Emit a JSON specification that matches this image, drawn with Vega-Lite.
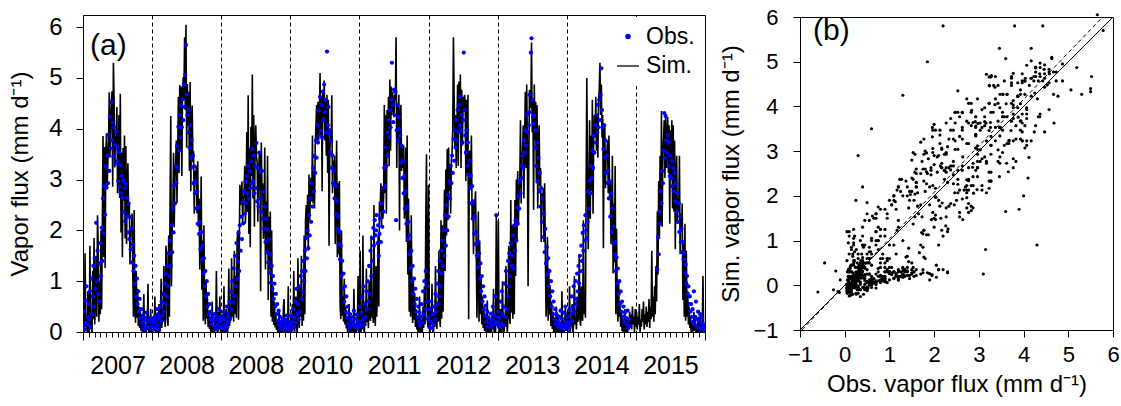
{
"$schema": "https://vega.github.io/schema/vega-lite/v6.json",
"padding": {"left": 8, "top": 5, "right": 0, "bottom": 0},
"background": "white",
"config": {"font": "Liberation Sans", "view": {"stroke": "black", "strokeWidth": 1}, "axis": {"domainColor": "black", "tickColor": "black", "labelColor": "black", "titleColor": "black", "labelFont": "Liberation Sans", "titleFont": "Liberation Sans", "titleFontWeight": "normal", "grid": false, "domainWidth": 1, "tickWidth": 1}},
"spacing": 95,
"bounds": "flush",
"center": true,
"resolve": {"scale": {"color": "independent", "shape": "independent", "size": "independent"}, "legend": {"color": "independent", "shape": "independent", "size": "independent"}},
"datasets": {"ts": [
{"t":2007.00,"o":0.12,"s":0.05},{"t":2007.01,"o":0.4,"s":0.55},{"t":2007.02,"o":0.05,"s":-0.12},{"t":2007.03,"o":0.62,"s":1.55},{"t":2007.04,"o":0.18,"s":0.1},{"t":2007.05,"o":0.9,"s":0.3},{"t":2007.06,"o":0.3,"s":-0.05},{"t":2007.07,"o":0.15,"s":0.8},{"t":2007.08,"o":0.55,"s":0.12},{"t":2007.09,"o":0.25,"s":-0.18},
{"t":2007.10,"o":0.8,"s":1.7},{"t":2007.11,"o":0.1,"s":0.05},{"t":2007.12,"o":1.05,"s":0.4},{"t":2007.13,"o":0.35,"s":-0.1},{"t":2007.14,"o":0.7,"s":1.2},{"t":2007.15,"o":1.3,"s":0.25},{"t":2007.16,"o":0.5,"s":1.85},{"t":2007.17,"o":1.45,"s":0.15},{"t":2007.18,"o":0.85,"s":0.6},{"t":2007.19,"o":2.15,"s":1.5},
{"t":2007.20,"o":1.0,"s":0.3},{"t":2007.21,"o":1.6,"s":2.3},{"t":2007.22,"o":0.75,"s":1.75},{"t":2007.23,"o":1.35,"s":0.2},{"t":2007.24,"o":0.6,"s":1.0},{"t":2007.25,"o":1.75,"s":0.35},{"t":2007.26,"o":1.1,"s":2.0},{"t":2007.27,"o":2.05,"s":0.45},{"t":2007.28,"o":1.4,"s":2.2},{"t":2007.29,"o":2.63,"s":3.86},
{"t":2007.30,"o":1.94,"s":1.47},{"t":2007.31,"o":2.87,"s":3.64},{"t":2007.32,"o":2.31,"s":1.26},{"t":2007.33,"o":3.26,"s":3.53},{"t":2007.34,"o":2.84,"s":3.91},{"t":2007.35,"o":3.47,"s":2.87},{"t":2007.36,"o":2.93,"s":3.34},{"t":2007.37,"o":3.88,"s":3.76},{"t":2007.38,"o":3.17,"s":4.72},{"t":2007.39,"o":4.24,"s":3.43},
{"t":2007.40,"o":3.61,"s":4.06},{"t":2007.41,"o":4.53,"s":4.48},{"t":2007.42,"o":3.77,"s":4.74},{"t":2007.43,"o":4.12,"s":2.86},{"t":2007.44,"o":3.46,"s":5.3},{"t":2007.45,"o":4.03,"s":4.57},{"t":2007.46,"o":3.68,"s":3.24},{"t":2007.47,"o":3.32,"s":3.87},{"t":2007.48,"o":3.94,"s":3.68},{"t":2007.49,"o":3.36,"s":4.43},
{"t":2007.50,"o":3.62,"s":2.73},{"t":2007.51,"o":2.97,"s":3.12},{"t":2007.52,"o":3.54,"s":4.27},{"t":2007.53,"o":2.86,"s":2.64},{"t":2007.54,"o":3.28,"s":4.69},{"t":2007.55,"o":2.73,"s":1.96},{"t":2007.56,"o":3.07,"s":3.53},{"t":2007.57,"o":2.64,"s":1.47},{"t":2007.58,"o":2.98,"s":3.62},{"t":2007.59,"o":2.37,"s":2.58},
{"t":2007.60,"o":2.83,"s":3.87},{"t":2007.61,"o":2.18,"s":1.84},{"t":2007.62,"o":2.92,"s":3.66},{"t":2007.63,"o":2.27,"s":1.73},{"t":2007.64,"o":2.64,"s":2.87},{"t":2007.65,"o":1.96,"s":3.32},{"t":2007.66,"o":2.53,"s":2.26},{"t":2007.67,"o":1.83,"s":2.54},{"t":2007.68,"o":2.26,"s":1.33},{"t":2007.69,"o":1.63,"s":2.07},
{"t":2007.70,"o":2.04,"s":1.97},{"t":2007.71,"o":1.37,"s":2.33},{"t":2007.72,"o":1.72,"s":1.18},{"t":2007.73,"o":1.2,"s":0.3},{"t":2007.74,"o":1.5,"s":2.4},{"t":2007.75,"o":0.95,"s":0.55},{"t":2007.76,"o":1.3,"s":0.18},{"t":2007.77,"o":0.7,"s":1.2},{"t":2007.78,"o":1.05,"s":0.28},{"t":2007.79,"o":0.55,"s":0.85},
{"t":2007.80,"o":0.8,"s":0.12},{"t":2007.81,"o":0.4,"s":0.5},{"t":2007.82,"o":0.65,"s":0.08},{"t":2007.83,"o":0.28,"s":0.4},{"t":2007.84,"o":0.45,"s":0.02},{"t":2007.85,"o":0.18,"s":0.28},{"t":2007.86,"o":0.32,"s":-0.08},{"t":2007.87,"o":0.08,"s":0.2},{"t":2007.88,"o":0.22,"s":0.75},{"t":2007.89,"o":0.04,"s":-0.06},
{"t":2007.90,"o":0.28,"s":0.14},{"t":2007.91,"o":0.12,"s":-0.22},{"t":2007.92,"o":0.38,"s":0.33},{"t":2007.93,"o":0.09,"s":0.04},{"t":2007.94,"o":0.2,"s":0.95},{"t":2007.95,"o":-0.15,"s":-0.14},{"t":2007.96,"o":0.27,"s":0.22},{"t":2007.97,"o":0.1,"s":-0.02},{"t":2007.98,"o":0.2,"s":0.45},{"t":2007.99,"o":0.06,"s":-0.09},
{"t":2008.00,"o":0.1,"s":0.15},{"t":2008.01,"o":0.25,"s":-0.05},{"t":2008.02,"o":0.06,"s":0.3},{"t":2008.03,"o":0.18,"s":0.02},{"t":2008.04,"o":0.3,"s":0.7},{"t":2008.05,"o":0.08,"s":-0.15},{"t":2008.06,"o":0.22,"s":0.1},{"t":2008.07,"o":0.45,"s":0.38},{"t":2008.08,"o":0.14,"s":-0.2},{"t":2008.09,"o":0.35,"s":0.2},
{"t":2008.10,"o":0.05,"s":0.55},{"t":2008.11,"o":0.28,"s":-0.1},{"t":2008.12,"o":0.5,"s":0.25},{"t":2008.13,"o":0.2,"s":1.05},{"t":2008.14,"o":0.6,"s":0.08},{"t":2008.15,"o":0.32,"s":0.45},{"t":2008.16,"o":0.75,"s":0.2},{"t":2008.17,"o":0.4,"s":1.3},{"t":2008.18,"o":0.95,"s":0.35},{"t":2008.19,"o":0.55,"s":0.1},
{"t":2008.20,"o":1.15,"s":1.7},{"t":2008.21,"o":0.7,"s":1.5},{"t":2008.22,"o":1.3,"s":0.25},{"t":2008.23,"o":0.9,"s":0.12},{"t":2008.24,"o":1.55,"s":1.9},{"t":2008.25,"o":1.1,"s":0.3},{"t":2008.26,"o":1.8,"s":2.6},{"t":2008.27,"o":1.3,"s":4.25},{"t":2008.28,"o":2.1,"s":0.9},{"t":2008.29,"o":1.57,"s":2.04},
{"t":2008.30,"o":2.43,"s":2.27},{"t":2008.31,"o":1.96,"s":3.53},{"t":2008.32,"o":2.88,"s":2.06},{"t":2008.33,"o":2.53,"s":3.04},{"t":2008.34,"o":3.27,"s":3.33},{"t":2008.35,"o":2.93,"s":3.77},{"t":2008.36,"o":3.66,"s":2.54},{"t":2008.37,"o":3.23,"s":3.46},{"t":2008.38,"o":4.04,"s":4.63},{"t":2008.39,"o":3.57,"s":3.13},
{"t":2008.40,"o":4.27,"s":4.86},{"t":2008.41,"o":3.83,"s":3.57},{"t":2008.42,"o":4.46,"s":4.83},{"t":2008.43,"o":4.03,"s":3.07},{"t":2008.44,"o":4.58,"s":4.73},{"t":2008.45,"o":4.17,"s":5.02},{"t":2008.46,"o":4.87,"s":4.57},{"t":2008.47,"o":4.43,"s":5.8},{"t":2008.48,"o":5.06,"s":4.37},{"t":2008.49,"o":5.65,"s":6.05},
{"t":2008.50,"o":4.68,"s":3.63},{"t":2008.51,"o":4.27,"s":4.88},{"t":2008.52,"o":3.93,"s":4.06},{"t":2008.53,"o":4.36,"s":4.73},{"t":2008.54,"o":3.63,"s":3.17},{"t":2008.55,"o":4.07,"s":4.92},{"t":2008.56,"o":3.43,"s":2.77},{"t":2008.57,"o":3.77,"s":4.13},{"t":2008.58,"o":3.24,"s":4.46},{"t":2008.59,"o":3.47,"s":3.34},
{"t":2008.60,"o":2.93,"s":3.56},{"t":2008.61,"o":3.26,"s":2.33},{"t":2008.62,"o":2.73,"s":3.17},{"t":2008.63,"o":2.97,"s":3.04},{"t":2008.64,"o":2.43,"s":3.27},{"t":2008.65,"o":2.77,"s":2.34},{"t":2008.66,"o":2.13,"s":3.36},{"t":2008.67,"o":2.46,"s":2.07},{"t":2008.68,"o":1.93,"s":2.63},{"t":2008.69,"o":2.17,"s":1.23},
{"t":2008.70,"o":1.63,"s":1.77},{"t":2008.71,"o":1.97,"s":3.06},{"t":2008.72,"o":1.43,"s":0.83},{"t":2008.73,"o":1.7,"s":1.8},{"t":2008.74,"o":1.15,"s":0.22},{"t":2008.75,"o":1.45,"s":2.1},{"t":2008.76,"o":0.9,"s":0.5},{"t":2008.77,"o":1.2,"s":0.15},{"t":2008.78,"o":0.7,"s":1.0},{"t":2008.79,"o":1.0,"s":0.26},
{"t":2008.80,"o":0.5,"s":0.7},{"t":2008.81,"o":0.75,"s":0.1},{"t":2008.82,"o":0.35,"s":0.42},{"t":2008.83,"o":0.55,"s":0.06},{"t":2008.84,"o":0.25,"s":0.3},{"t":2008.85,"o":0.4,"s":-0.05},{"t":2008.86,"o":0.15,"s":0.18},{"t":2008.87,"o":0.3,"s":0.6},{"t":2008.88,"o":-0.6,"s":-0.15},{"t":2008.89,"o":0.22,"s":0.1},
{"t":2008.90,"o":0.35,"s":-0.25},{"t":2008.91,"o":0.1,"s":0.3},{"t":2008.92,"o":0.25,"s":0.02},{"t":2008.93,"o":0.05,"s":1.2},{"t":2008.94,"o":0.3,"s":0.15},{"t":2008.95,"o":0.15,"s":-0.1},{"t":2008.96,"o":0.45,"s":0.4},{"t":2008.97,"o":0.2,"s":0.05},{"t":2008.98,"o":0.1,"s":0.7},{"t":2008.99,"o":0.28,"s":-0.05},
{"t":2009.00,"o":0.22,"s":0.1},{"t":2009.01,"o":0.08,"s":0.35},{"t":2009.02,"o":0.3,"s":-0.08},{"t":2009.03,"o":0.12,"s":0.2},{"t":2009.04,"o":0.4,"s":0.9},{"t":2009.05,"o":0.06,"s":-0.18},{"t":2009.06,"o":0.25,"s":0.14},{"t":2009.07,"o":0.15,"s":0.45},{"t":2009.08,"o":0.5,"s":0.06},{"t":2009.09,"o":0.1,"s":-0.12},
{"t":2009.10,"o":0.35,"s":0.28},{"t":2009.11,"o":0.2,"s":1.25},{"t":2009.12,"o":0.6,"s":0.12},{"t":2009.13,"o":0.28,"s":0.5},{"t":2009.14,"o":0.8,"s":0.22},{"t":2009.15,"o":0.45,"s":1.45},{"t":2009.16,"o":1.0,"s":0.3},{"t":2009.17,"o":0.58,"s":0.75},{"t":2009.18,"o":1.25,"s":0.2},{"t":2009.19,"o":0.7,"s":1.6},
{"t":2009.20,"o":1.5,"s":0.35},{"t":2009.21,"o":0.9,"s":1.1},{"t":2009.22,"o":1.75,"s":0.28},{"t":2009.23,"o":1.05,"s":1.8},{"t":2009.24,"o":1.4,"s":2.0},{"t":2009.25,"o":1.95,"s":0.24},{"t":2009.26,"o":1.2,"s":1.45},{"t":2009.27,"o":2.1,"s":2.9},{"t":2009.28,"o":1.6,"s":2.5},{"t":2009.29,"o":2.27,"s":2.63},
{"t":2009.30,"o":1.83,"s":2.96},{"t":2009.31,"o":2.57,"s":2.13},{"t":2009.32,"o":2.14,"s":2.67},{"t":2009.33,"o":2.77,"s":2.63},{"t":2009.34,"o":2.33,"s":3.27},{"t":2009.35,"o":2.96,"s":2.14},{"t":2009.36,"o":2.53,"s":2.57},{"t":2009.37,"o":3.07,"s":3.93},{"t":2009.38,"o":2.73,"s":2.36},{"t":2009.39,"o":3.27,"s":4.66},
{"t":2009.40,"o":2.63,"s":1.93},{"t":2009.41,"o":3.16,"s":3.63},{"t":2009.42,"o":2.83,"s":1.67},{"t":2009.43,"o":3.36,"s":4.04},{"t":2009.44,"o":2.93,"s":3.07},{"t":2009.45,"o":3.6,"s":5.07},{"t":2009.46,"o":2.97,"s":2.63},{"t":2009.47,"o":3.47,"s":4.27},{"t":2009.48,"o":2.73,"s":2.07},{"t":2009.49,"o":3.26,"s":3.64},
{"t":2009.50,"o":2.83,"s":4.07},{"t":2009.51,"o":3.72,"s":3.46},{"t":2009.52,"o":2.57,"s":3.33},{"t":2009.53,"o":3.23,"s":2.17},{"t":2009.54,"o":2.47,"s":3.04},{"t":2009.55,"o":3.53,"s":3.47},{"t":2009.56,"o":2.63,"s":3.53},{"t":2009.57,"o":3.15,"s":0.8},{"t":2009.58,"o":2.37,"s":3.73},{"t":2009.59,"o":3.17,"s":2.77},
{"t":2009.60,"o":2.23,"s":2.93},{"t":2009.61,"o":2.77,"s":1.83},{"t":2009.62,"o":2.03,"s":2.17},{"t":2009.63,"o":2.47,"s":3.63},{"t":2009.64,"o":1.77,"s":1.23},{"t":2009.65,"o":2.23,"s":2.57},{"t":2009.66,"o":1.57,"s":1.53},{"t":2009.67,"o":2.03,"s":3.47},{"t":2009.68,"o":1.37,"s":0.63},{"t":2009.69,"o":1.83,"s":2.27},
{"t":2009.70,"o":1.17,"s":1.23},{"t":2009.71,"o":1.53,"s":2.37},{"t":2009.72,"o":0.97,"s":0.3},{"t":2009.73,"o":1.3,"s":2.0},{"t":2009.74,"o":0.85,"s":0.2},{"t":2009.75,"o":1.1,"s":0.9},{"t":2009.76,"o":0.65,"s":0.14},{"t":2009.77,"o":0.95,"s":0.6},{"t":2009.78,"o":0.5,"s":0.09},{"t":2009.79,"o":0.75,"s":0.38},
{"t":2009.80,"o":0.35,"s":0.04},{"t":2009.81,"o":0.55,"s":0.25},{"t":2009.82,"o":0.22,"s":-0.06},{"t":2009.83,"o":0.42,"s":0.16},{"t":2009.84,"o":0.14,"s":0.45},{"t":2009.85,"o":0.3,"s":-0.1},{"t":2009.86,"o":0.06,"s":0.12},{"t":2009.87,"o":0.2,"s":-0.02},{"t":2009.88,"o":0.1,"s":0.3},{"t":2009.89,"o":0.26,"s":-0.2},
{"t":2009.90,"o":-0.45,"s":0.5},{"t":2009.91,"o":0.18,"s":0.65},{"t":2009.92,"o":0.08,"s":-0.06},{"t":2009.93,"o":0.24,"s":0.18},{"t":2009.94,"o":0.12,"s":-0.14},{"t":2009.95,"o":0.32,"s":0.24},{"t":2009.96,"o":0.04,"s":0.02},{"t":2009.97,"o":0.2,"s":0.9},{"t":2009.98,"o":0.09,"s":-0.1},{"t":2009.99,"o":0.16,"s":0.12},
{"t":2010.00,"o":0.15,"s":0.0},{"t":2010.01,"o":0.32,"s":0.3},{"t":2010.02,"o":0.06,"s":-0.15},{"t":2010.03,"o":0.2,"s":0.55},{"t":2010.04,"o":0.45,"s":0.1},{"t":2010.05,"o":0.1,"s":1.2},{"t":2010.06,"o":0.28,"s":-0.05},{"t":2010.07,"o":0.6,"s":0.2},{"t":2010.08,"o":0.18,"s":0.7},{"t":2010.09,"o":0.85,"s":0.15},
{"t":2010.10,"o":0.35,"s":-0.1},{"t":2010.11,"o":0.55,"s":1.45},{"t":2010.12,"o":0.25,"s":0.25},{"t":2010.13,"o":0.9,"s":0.08},{"t":2010.14,"o":0.4,"s":0.9},{"t":2010.15,"o":1.1,"s":0.3},{"t":2010.16,"o":0.65,"s":1.5},{"t":2010.17,"o":1.2,"s":0.12},{"t":2010.18,"o":0.8,"s":0.6},{"t":2010.19,"o":1.4,"s":0.22},
{"t":2010.20,"o":1.0,"s":1.9},{"t":2010.21,"o":1.6,"s":0.35},{"t":2010.22,"o":1.2,"s":2.2},{"t":2010.23,"o":1.85,"s":2.5},{"t":2010.24,"o":1.45,"s":1.9},{"t":2010.25,"o":2.0,"s":2.7},{"t":2010.26,"o":1.65,"s":1.6},{"t":2010.27,"o":2.3,"s":3.1},{"t":2010.28,"o":1.9,"s":2.2},{"t":2010.29,"o":2.63,"s":2.67},
{"t":2010.30,"o":2.17,"s":3.04},{"t":2010.31,"o":2.93,"s":2.57},{"t":2010.32,"o":2.47,"s":3.87},{"t":2010.33,"o":3.23,"s":2.53},{"t":2010.34,"o":2.77,"s":3.17},{"t":2010.35,"o":3.46,"s":2.43},{"t":2010.36,"o":3.13,"s":3.66},{"t":2010.37,"o":3.77,"s":4.03},{"t":2010.38,"o":3.43,"s":4.47},{"t":2010.39,"o":4.07,"s":3.73},
{"t":2010.40,"o":3.73,"s":4.53},{"t":2010.41,"o":4.36,"s":3.77},{"t":2010.42,"o":3.87,"s":4.23},{"t":2010.43,"o":4.63,"s":5.1},{"t":2010.44,"o":3.97,"s":3.83},{"t":2010.45,"o":4.47,"s":4.63},{"t":2010.46,"o":3.83,"s":2.77},{"t":2010.47,"o":4.73,"s":4.77},{"t":2010.48,"o":4.17,"s":4.23},{"t":2010.49,"o":4.87,"s":4.95},
{"t":2010.50,"o":4.33,"s":3.77},{"t":2010.51,"o":4.57,"s":4.53},{"t":2010.52,"o":3.93,"s":3.47},{"t":2010.53,"o":5.52,"s":4.67},{"t":2010.54,"o":4.07,"s":3.13},{"t":2010.55,"o":4.43,"s":4.57},{"t":2010.56,"o":3.9,"s":1.7},{"t":2010.57,"o":3.97,"s":3.43},{"t":2010.58,"o":3.53,"s":3.87},{"t":2010.59,"o":3.77,"s":3.73},
{"t":2010.60,"o":3.23,"s":4.66},{"t":2010.61,"o":3.47,"s":2.73},{"t":2010.62,"o":2.93,"s":3.37},{"t":2010.63,"o":3.17,"s":3.23},{"t":2010.64,"o":2.63,"s":3.47},{"t":2010.65,"o":2.87,"s":1.73},{"t":2010.66,"o":2.33,"s":2.63},{"t":2010.67,"o":2.57,"s":3.77},{"t":2010.68,"o":2.03,"s":1.47},{"t":2010.69,"o":2.27,"s":2.93},
{"t":2010.70,"o":1.73,"s":1.53},{"t":2010.71,"o":1.97,"s":2.97},{"t":2010.72,"o":1.43,"s":0.53},{"t":2010.73,"o":1.7,"s":0.25},{"t":2010.74,"o":1.1,"s":2.0},{"t":2010.75,"o":1.4,"s":0.32},{"t":2010.76,"o":0.85,"s":0.7},{"t":2010.77,"o":1.15,"s":0.2},{"t":2010.78,"o":0.6,"s":1.05},{"t":2010.79,"o":0.9,"s":0.15},
{"t":2010.80,"o":0.4,"s":0.5},{"t":2010.81,"o":0.7,"s":0.07},{"t":2010.82,"o":0.28,"s":0.3},{"t":2010.83,"o":0.5,"s":-0.04},{"t":2010.84,"o":0.16,"s":0.2},{"t":2010.85,"o":0.36,"s":0.55},{"t":2010.86,"o":0.08,"s":-0.1},{"t":2010.87,"o":0.24,"s":0.08},{"t":2010.88,"o":0.12,"s":0.38},{"t":2010.89,"o":0.3,"s":-0.18},
{"t":2010.90,"o":-0.1,"s":0.12},{"t":2010.91,"o":0.2,"s":0.0},{"t":2010.92,"o":0.42,"s":0.85},{"t":2010.93,"o":0.1,"s":-0.08},{"t":2010.94,"o":0.26,"s":0.16},{"t":2010.95,"o":0.14,"s":-0.22},{"t":2010.96,"o":0.34,"s":0.3},{"t":2010.97,"o":0.07,"s":0.03},{"t":2010.98,"o":0.22,"s":1.1},{"t":2010.99,"o":0.11,"s":-0.04},
{"t":2011.00,"o":0.2,"s":0.1},{"t":2011.01,"o":0.5,"s":1.6},{"t":2011.02,"o":0.12,"s":-0.1},{"t":2011.03,"o":0.38,"s":0.25},{"t":2011.04,"o":0.7,"s":0.05},{"t":2011.05,"o":0.25,"s":1.9},{"t":2011.06,"o":0.9,"s":0.3},{"t":2011.07,"o":0.15,"s":-0.15},{"t":2011.08,"o":0.55,"s":0.6},{"t":2011.09,"o":0.3,"s":0.12},
{"t":2011.10,"o":0.8,"s":1.25},{"t":2011.11,"o":0.45,"s":0.2},{"t":2011.12,"o":1.0,"s":0.4},{"t":2011.13,"o":0.6,"s":0.08},{"t":2011.14,"o":1.3,"s":1.0},{"t":2011.15,"o":0.75,"s":0.3},{"t":2011.16,"o":1.6,"s":0.22},{"t":2011.17,"o":1.1,"s":1.9},{"t":2011.18,"o":1.85,"s":0.28},{"t":2011.19,"o":1.4,"s":0.65},
{"t":2011.20,"o":2.05,"s":0.18},{"t":2011.21,"o":1.7,"s":2.5},{"t":2011.22,"o":2.2,"s":0.35},{"t":2011.23,"o":1.9,"s":0.12},{"t":2011.24,"o":2.0,"s":1.3},{"t":2011.25,"o":2.3,"s":0.3},{"t":2011.26,"o":1.75,"s":0.85},{"t":2011.27,"o":2.1,"s":1.9},{"t":2011.28,"o":1.5,"s":0.5},{"t":2011.29,"o":1.93,"s":2.57},
{"t":2011.30,"o":2.23,"s":2.37},{"t":2011.31,"o":1.77,"s":2.93},{"t":2011.32,"o":2.53,"s":2.07},{"t":2011.33,"o":2.07,"s":2.87},{"t":2011.34,"o":2.83,"s":2.23},{"t":2011.35,"o":2.37,"s":2.67},{"t":2011.36,"o":3.23,"s":4.47},{"t":2011.37,"o":2.87,"s":2.73},{"t":2011.38,"o":3.63,"s":4.27},{"t":2011.39,"o":3.27,"s":2.33},
{"t":2011.40,"o":3.93,"s":4.37},{"t":2011.41,"o":3.47,"s":3.53},{"t":2011.42,"o":4.17,"s":4.63},{"t":2011.43,"o":3.83,"s":3.27},{"t":2011.44,"o":4.37,"s":4.97},{"t":2011.45,"o":4.03,"s":3.57},{"t":2011.46,"o":4.57,"s":4.83},{"t":2011.47,"o":5.3,"s":4.27},{"t":2011.48,"o":4.47,"s":4.73},{"t":2011.49,"o":4.13,"s":4.47},
{"t":2011.50,"o":4.77,"s":4.23},{"t":2011.51,"o":4.27,"s":4.67},{"t":2011.52,"o":4.73,"s":4.57},{"t":2011.53,"o":2.2,"s":5.8},{"t":2011.54,"o":3.97,"s":3.23},{"t":2011.55,"o":4.47,"s":4.43},{"t":2011.56,"o":3.77,"s":3.83},{"t":2011.57,"o":4.23,"s":4.67},{"t":2011.58,"o":4.0,"s":2.0},{"t":2011.59,"o":3.87,"s":4.23},
{"t":2011.60,"o":3.33,"s":4.47},{"t":2011.61,"o":3.67,"s":3.17},{"t":2011.62,"o":3.03,"s":3.63},{"t":2011.63,"o":3.37,"s":3.23},{"t":2011.64,"o":2.73,"s":3.67},{"t":2011.65,"o":3.07,"s":2.23},{"t":2011.66,"o":2.43,"s":2.47},{"t":2011.67,"o":2.77,"s":3.63},{"t":2011.68,"o":2.13,"s":1.77},{"t":2011.69,"o":2.47,"s":3.87},
{"t":2011.70,"o":1.83,"s":1.13},{"t":2011.71,"o":2.17,"s":2.63},{"t":2011.72,"o":1.53,"s":0.4},{"t":2011.73,"o":1.9,"s":1.8},{"t":2011.74,"o":1.25,"s":0.3},{"t":2011.75,"o":1.6,"s":2.3},{"t":2011.76,"o":1.0,"s":0.6},{"t":2011.77,"o":1.3,"s":0.18},{"t":2011.78,"o":0.75,"s":1.0},{"t":2011.79,"o":1.05,"s":0.24},
{"t":2011.80,"o":0.55,"s":0.75},{"t":2011.81,"o":0.85,"s":0.1},{"t":2011.82,"o":0.4,"s":0.45},{"t":2011.83,"o":0.65,"s":0.05},{"t":2011.84,"o":0.3,"s":0.3},{"t":2011.85,"o":0.5,"s":-0.08},{"t":2011.86,"o":0.2,"s":0.2},{"t":2011.87,"o":0.38,"s":0.7},{"t":2011.88,"o":0.12,"s":-0.12},{"t":2011.89,"o":0.3,"s":0.1},
{"t":2011.90,"o":0.55,"s":0.25},{"t":2011.91,"o":0.18,"s":-0.05},{"t":2011.92,"o":0.8,"s":0.5},{"t":2011.93,"o":0.35,"s":0.08},{"t":2011.94,"o":1.0,"s":0.9},{"t":2011.95,"o":0.45,"s":0.15},{"t":2011.96,"o":1.2,"s":2.2},{"t":2011.97,"o":0.6,"s":3.5},{"t":2011.98,"o":0.9,"s":0.4},{"t":2011.99,"o":0.25,"s":0.1},
{"t":2012.00,"o":0.3,"s":2.9},{"t":2012.01,"o":0.1,"s":0.2},{"t":2012.02,"o":0.45,"s":-0.1},{"t":2012.03,"o":0.2,"s":0.5},{"t":2012.04,"o":0.6,"s":0.15},{"t":2012.05,"o":0.08,"s":0.95},{"t":2012.06,"o":0.35,"s":0.02},{"t":2012.07,"o":0.15,"s":-0.2},{"t":2012.08,"o":0.5,"s":0.35},{"t":2012.09,"o":0.25,"s":0.1},
{"t":2012.10,"o":0.75,"s":1.3},{"t":2012.11,"o":0.4,"s":0.22},{"t":2012.12,"o":0.95,"s":0.06},{"t":2012.13,"o":0.55,"s":0.6},{"t":2012.14,"o":1.2,"s":0.2},{"t":2012.15,"o":0.7,"s":1.6},{"t":2012.16,"o":1.4,"s":0.32},{"t":2012.17,"o":0.9,"s":0.1},{"t":2012.18,"o":1.6,"s":2.2},{"t":2012.19,"o":1.15,"s":0.26},
{"t":2012.20,"o":1.8,"s":2.1},{"t":2012.21,"o":1.3,"s":0.4},{"t":2012.22,"o":2.0,"s":1.5},{"t":2012.23,"o":1.5,"s":2.8},{"t":2012.24,"o":2.3,"s":1.2},{"t":2012.25,"o":1.7,"s":3.2},{"t":2012.26,"o":2.5,"s":1.9},{"t":2012.27,"o":2.0,"s":3.6},{"t":2012.28,"o":2.7,"s":2.2},{"t":2012.29,"o":2.27,"s":3.63},
{"t":2012.30,"o":2.97,"s":2.77},{"t":2012.31,"o":2.63,"s":3.27},{"t":2012.32,"o":3.27,"s":2.33},{"t":2012.33,"o":2.93,"s":3.37},{"t":2012.34,"o":3.47,"s":3.53},{"t":2012.35,"o":3.13,"s":3.97},{"t":2012.36,"o":3.8,"s":5.8},{"t":2012.37,"o":3.37,"s":4.67},{"t":2012.38,"o":3.97,"s":3.63},{"t":2012.39,"o":3.63,"s":4.27},
{"t":2012.40,"o":4.17,"s":3.23},{"t":2012.41,"o":3.77,"s":3.97},{"t":2012.42,"o":4.37,"s":4.87},{"t":2012.43,"o":3.93,"s":3.27},{"t":2012.44,"o":4.47,"s":4.93},{"t":2012.45,"o":4.07,"s":3.97},{"t":2012.46,"o":4.63,"s":5.07},{"t":2012.47,"o":3.97,"s":3.23},{"t":2012.48,"o":4.27,"s":4.77},{"t":2012.49,"o":3.73,"s":3.67},
{"t":2012.50,"o":4.17,"s":4.63},{"t":2012.51,"o":5.5,"s":4.33},{"t":2012.52,"o":4.37,"s":4.67},{"t":2012.53,"o":3.87,"s":4.53},{"t":2012.54,"o":3.53,"s":2.97},{"t":2012.55,"o":3.97,"s":4.57},{"t":2012.56,"o":3.27,"s":3.13},{"t":2012.57,"o":3.73,"s":4.67},{"t":2012.58,"o":3.1,"s":0.25},{"t":2012.59,"o":3.37,"s":3.53},
{"t":2012.60,"o":2.83,"s":3.57},{"t":2012.61,"o":3.07,"s":2.83},{"t":2012.62,"o":2.53,"s":3.87},{"t":2012.63,"o":2.87,"s":2.23},{"t":2012.64,"o":2.23,"s":2.57},{"t":2012.65,"o":2.57,"s":1.53},{"t":2012.66,"o":1.93,"s":2.47},{"t":2012.67,"o":2.27,"s":2.53},{"t":2012.68,"o":1.73,"s":2.77},{"t":2012.69,"o":1.97,"s":1.63},
{"t":2012.70,"o":1.5,"s":0.28},{"t":2012.71,"o":1.77,"s":1.23},{"t":2012.72,"o":1.27,"s":2.37},{"t":2012.73,"o":1.55,"s":0.2},{"t":2012.74,"o":1.05,"s":1.8},{"t":2012.75,"o":1.35,"s":0.35},{"t":2012.76,"o":0.8,"s":1.1},{"t":2012.77,"o":1.1,"s":0.15},{"t":2012.78,"o":0.6,"s":0.7},{"t":2012.79,"o":0.9,"s":0.08},
{"t":2012.80,"o":0.45,"s":0.5},{"t":2012.81,"o":0.7,"s":0.02},{"t":2012.82,"o":0.32,"s":0.36},{"t":2012.83,"o":0.52,"s":-0.06},{"t":2012.84,"o":0.2,"s":0.22},{"t":2012.85,"o":0.4,"s":0.62},{"t":2012.86,"o":0.1,"s":-0.14},{"t":2012.87,"o":0.28,"s":0.1},{"t":2012.88,"o":-0.2,"s":0.32},{"t":2012.89,"o":0.18,"s":-0.04},
{"t":2012.90,"o":0.36,"s":0.16},{"t":2012.91,"o":0.1,"s":-0.24},{"t":2012.92,"o":0.24,"s":0.4},{"t":2012.93,"o":0.5,"s":0.06},{"t":2012.94,"o":0.15,"s":0.85},{"t":2012.95,"o":0.32,"s":-0.1},{"t":2012.96,"o":0.7,"s":0.25},{"t":2012.97,"o":0.2,"s":0.0},{"t":2012.98,"o":2.3,"s":2.3},{"t":2012.99,"o":0.3,"s":0.18},
{"t":2013.00,"o":0.15,"s":0.3},{"t":2013.01,"o":0.4,"s":2.2},{"t":2013.02,"o":0.1,"s":-0.05},{"t":2013.03,"o":0.28,"s":0.14},{"t":2013.04,"o":0.6,"s":0.45},{"t":2013.05,"o":0.18,"s":-0.2},{"t":2013.06,"o":0.8,"s":0.2},{"t":2013.07,"o":0.35,"s":1.0},{"t":2013.08,"o":0.12,"s":0.05},{"t":2013.09,"o":0.5,"s":-0.12},
{"t":2013.10,"o":0.95,"s":0.3},{"t":2013.11,"o":0.3,"s":0.1},{"t":2013.12,"o":1.2,"s":1.3},{"t":2013.13,"o":0.45,"s":0.24},{"t":2013.14,"o":0.7,"s":-0.06},{"t":2013.15,"o":1.4,"s":0.4},{"t":2013.16,"o":0.9,"s":1.7},{"t":2013.17,"o":1.55,"s":0.3},{"t":2013.18,"o":1.1,"s":0.16},{"t":2013.19,"o":1.75,"s":2.6},
{"t":2013.20,"o":1.3,"s":0.38},{"t":2013.21,"o":1.5,"s":2.1},{"t":2013.22,"o":1.9,"s":0.26},{"t":2013.23,"o":1.25,"s":2.1},{"t":2013.24,"o":2.1,"s":0.35},{"t":2013.25,"o":1.6,"s":2.6},{"t":2013.26,"o":2.2,"s":1.1},{"t":2013.27,"o":1.8,"s":3.0},{"t":2013.28,"o":2.45,"s":1.8},{"t":2013.29,"o":2.13,"s":3.17},
{"t":2013.30,"o":2.67,"s":2.13},{"t":2013.31,"o":2.43,"s":2.77},{"t":2013.32,"o":2.97,"s":2.93},{"t":2013.33,"o":2.73,"s":4.17},{"t":2013.34,"o":3.27,"s":2.53},{"t":2013.35,"o":3.03,"s":3.47},{"t":2013.36,"o":3.47,"s":3.53},{"t":2013.37,"o":3.23,"s":4.07},{"t":2013.38,"o":3.77,"s":2.63},{"t":2013.39,"o":3.53,"s":3.77},
{"t":2013.40,"o":3.97,"s":4.73},{"t":2013.41,"o":3.67,"s":3.23},{"t":2013.42,"o":4.27,"s":4.87},{"t":2013.43,"o":3.93,"s":3.67},{"t":2013.44,"o":4.3,"s":0.9},{"t":2013.45,"o":4.07,"s":3.23},{"t":2013.46,"o":4.67,"s":4.77},{"t":2013.47,"o":4.33,"s":4.57},{"t":2013.48,"o":5.5,"s":4.4},{"t":2013.49,"o":5.78,"s":5.7},
{"t":2013.50,"o":4.57,"s":3.93},{"t":2013.51,"o":4.23,"s":4.57},{"t":2013.52,"o":4.1,"s":2.4},{"t":2013.53,"o":4.27,"s":4.87},{"t":2013.54,"o":3.63,"s":3.77},{"t":2013.55,"o":3.97,"s":4.53},{"t":2013.56,"o":3.27,"s":2.93},{"t":2013.57,"o":3.73,"s":4.47},{"t":2013.58,"o":2.97,"s":2.43},{"t":2013.59,"o":3.43,"s":3.67},
{"t":2013.60,"o":2.77,"s":4.07},{"t":2013.61,"o":3.13,"s":2.87},{"t":2013.62,"o":2.47,"s":3.23},{"t":2013.63,"o":2.83,"s":1.77},{"t":2013.64,"o":2.17,"s":2.73},{"t":2013.65,"o":2.63,"s":2.57},{"t":2013.66,"o":1.87,"s":2.83},{"t":2013.67,"o":2.33,"s":1.77},{"t":2013.68,"o":1.57,"s":2.93},{"t":2013.69,"o":2.03,"s":1.57},
{"t":2013.70,"o":1.35,"s":0.3},{"t":2013.71,"o":1.67,"s":0.73},{"t":2013.72,"o":1.13,"s":1.87},{"t":2013.73,"o":1.45,"s":0.22},{"t":2013.74,"o":0.9,"s":1.25},{"t":2013.75,"o":1.2,"s":0.34},{"t":2013.76,"o":0.7,"s":0.9},{"t":2013.77,"o":1.0,"s":0.12},{"t":2013.78,"o":0.5,"s":0.6},{"t":2013.79,"o":0.8,"s":0.06},
{"t":2013.80,"o":0.35,"s":0.4},{"t":2013.81,"o":0.6,"s":0.0},{"t":2013.82,"o":0.25,"s":0.28},{"t":2013.83,"o":0.45,"s":-0.08},{"t":2013.84,"o":0.15,"s":0.18},{"t":2013.85,"o":0.35,"s":0.5},{"t":2013.86,"o":-0.12,"s":-0.16},{"t":2013.87,"o":0.22,"s":0.06},{"t":2013.88,"o":0.1,"s":0.35},{"t":2013.89,"o":0.3,"s":-0.02},
{"t":2013.90,"o":0.16,"s":0.2},{"t":2013.91,"o":0.42,"s":-0.2},{"t":2013.92,"o":0.08,"s":0.1},{"t":2013.93,"o":0.26,"s":0.8},{"t":2013.94,"o":0.12,"s":0.0},{"t":2013.95,"o":0.38,"s":0.22},{"t":2013.96,"o":0.06,"s":-0.12},{"t":2013.97,"o":0.2,"s":0.15},{"t":2013.98,"o":0.5,"s":0.5},{"t":2013.99,"o":0.15,"s":0.02},
{"t":2014.00,"o":0.1,"s":0.05},{"t":2014.01,"o":0.3,"s":0.4},{"t":2014.02,"o":0.05,"s":-0.15},{"t":2014.03,"o":0.2,"s":0.12},{"t":2014.04,"o":0.45,"s":0.9},{"t":2014.05,"o":0.12,"s":-0.05},{"t":2014.06,"o":0.35,"s":0.25},{"t":2014.07,"o":0.7,"s":0.1},{"t":2014.08,"o":0.22,"s":0.55},{"t":2014.09,"o":0.5,"s":-0.1},
{"t":2014.10,"o":0.9,"s":0.2},{"t":2014.11,"o":0.4,"s":1.1},{"t":2014.12,"o":0.65,"s":0.15},{"t":2014.13,"o":1.0,"s":0.3},{"t":2014.14,"o":0.55,"s":0.05},{"t":2014.15,"o":1.15,"s":0.7},{"t":2014.16,"o":0.8,"s":0.2},{"t":2014.17,"o":1.3,"s":0.32},{"t":2014.18,"o":0.95,"s":1.5},{"t":2014.19,"o":1.5,"s":0.25},
{"t":2014.20,"o":1.2,"s":0.12},{"t":2014.21,"o":1.7,"s":0.9},{"t":2014.22,"o":1.4,"s":0.3},{"t":2014.23,"o":1.95,"s":0.22},{"t":2014.24,"o":1.6,"s":2.2},{"t":2014.25,"o":2.1,"s":0.35},{"t":2014.26,"o":1.8,"s":0.6},{"t":2014.27,"o":2.3,"s":0.28},{"t":2014.28,"o":2.0,"s":2.9},{"t":2014.29,"o":1.85,"s":5.0},
{"t":2014.30,"o":2.17,"s":3.07},{"t":2014.31,"o":2.77,"s":1.63},{"t":2014.32,"o":2.43,"s":2.67},{"t":2014.33,"o":2.97,"s":4.17},{"t":2014.34,"o":2.73,"s":2.23},{"t":2014.35,"o":3.27,"s":3.87},{"t":2014.36,"o":3.03,"s":2.77},{"t":2014.37,"o":3.57,"s":4.57},{"t":2014.38,"o":3.23,"s":2.33},{"t":2014.39,"o":3.87,"s":3.97},
{"t":2014.40,"o":3.53,"s":4.27},{"t":2014.41,"o":4.07,"s":3.83},{"t":2014.42,"o":3.73,"s":4.63},{"t":2014.43,"o":4.27,"s":3.57},{"t":2014.44,"o":3.93,"s":4.27},{"t":2014.45,"o":4.47,"s":3.43},{"t":2014.46,"o":4.03,"s":4.57},{"t":2014.47,"o":4.57,"s":4.77},{"t":2014.48,"o":4.17,"s":5.3},{"t":2014.49,"o":4.67,"s":4.27},
{"t":2014.50,"o":5.19,"s":4.87},{"t":2014.51,"o":4.37,"s":3.83},{"t":2014.52,"o":4.03,"s":4.27},{"t":2014.53,"o":3.6,"s":1.65},{"t":2014.54,"o":4.07,"s":3.93},{"t":2014.55,"o":3.43,"s":4.07},{"t":2014.56,"o":3.77,"s":2.83},{"t":2014.57,"o":3.13,"s":3.57},{"t":2014.58,"o":3.47,"s":3.53},{"t":2014.59,"o":2.93,"s":3.77},
{"t":2014.60,"o":3.17,"s":2.73},{"t":2014.61,"o":2.63,"s":3.87},{"t":2014.62,"o":2.97,"s":2.63},{"t":2014.63,"o":2.27,"s":2.97},{"t":2014.64,"o":2.73,"s":1.73},{"t":2014.65,"o":1.97,"s":2.23},{"t":2014.66,"o":2.43,"s":3.47},{"t":2014.67,"o":1.75,"s":1.15},{"t":2014.68,"o":2.07,"s":2.53},{"t":2014.69,"o":1.53,"s":1.37},
{"t":2014.70,"o":1.77,"s":3.27},{"t":2014.71,"o":1.2,"s":0.35},{"t":2014.72,"o":1.47,"s":2.03},{"t":2014.73,"o":0.95,"s":0.6},{"t":2014.74,"o":1.25,"s":0.2},{"t":2014.75,"o":0.75,"s":1.0},{"t":2014.76,"o":1.0,"s":0.3},{"t":2014.77,"o":0.55,"s":0.6},{"t":2014.78,"o":0.8,"s":0.1},{"t":2014.79,"o":0.4,"s":0.4},
{"t":2014.80,"o":0.6,"s":0.02},{"t":2014.81,"o":0.3,"s":0.25},{"t":2014.82,"o":0.5,"s":-0.06},{"t":2014.83,"o":0.2,"s":0.15},{"t":2014.84,"o":0.38,"s":0.45},{"t":2014.85,"o":-0.25,"s":-0.1},{"t":2014.86,"o":0.28,"s":0.1},{"t":2014.87,"o":0.15,"s":0.3},{"t":2014.88,"o":0.42,"s":-0.04},{"t":2014.89,"o":0.08,"s":0.2},
{"t":2014.90,"o":0.25,"s":0.05},{"t":2014.91,"o":0.12,"s":0.4},{"t":2014.92,"s":0.1},{"t":2014.93,"s":0.35},{"t":2014.94,"s":0.05},{"t":2014.95,"s":0.5},{"t":2014.96,"s":0.15},{"t":2014.97,"s":0.3},{"t":2014.98,"s":0.0},{"t":2014.99,"s":0.45},
{"t":2015.00,"s":0.1},{"t":2015.01,"s":0.4},{"t":2015.02,"s":0.05},{"t":2015.03,"s":0.3},{"t":2015.04,"s":0.15},{"t":2015.05,"s":0.55},{"t":2015.06,"s":0.0},{"t":2015.07,"s":0.25},{"t":2015.08,"s":0.1},{"t":2015.09,"s":0.45},
{"t":2015.10,"s":0.2},{"t":2015.11,"s":0.6},{"t":2015.12,"s":0.05},{"t":2015.13,"s":0.35},{"t":2015.14,"s":0.15},{"t":2015.15,"s":0.5},{"t":2015.16,"s":0.1},{"t":2015.17,"s":0.4},{"t":2015.18,"s":0.2},{"t":2015.19,"s":0.65},
{"t":2015.20,"s":0.08},{"t":2015.21,"s":0.5},{"t":2015.22,"s":0.25},{"t":2015.23,"s":1.6},{"t":2015.24,"s":0.3},{"t":2015.25,"s":0.7},{"t":2015.26,"s":0.2},{"t":2015.27,"s":0.9},{"t":2015.28,"s":0.35},{"t":2015.29,"s":1.3},
{"t":2015.30,"s":0.6},{"t":2015.31,"o":1.23,"s":2.37},{"t":2015.32,"o":1.87,"s":1.13},{"t":2015.33,"o":1.53,"s":2.97},{"t":2015.34,"o":2.37,"s":1.83},{"t":2015.35,"o":2.13,"s":3.47},{"t":2015.36,"o":2.77,"s":2.13},{"t":2015.37,"o":2.53,"s":4.35},{"t":2015.38,"o":3.17,"s":2.07},{"t":2015.39,"o":2.93,"s":3.53},
{"t":2015.40,"o":3.57,"s":3.77},{"t":2015.41,"o":4.31,"s":4.17},{"t":2015.42,"o":3.43,"s":3.03},{"t":2015.43,"o":4.25,"s":4.3},{"t":2015.44,"o":3.77,"s":3.23},{"t":2015.45,"o":3.53,"s":3.77},{"t":2015.46,"o":3.87,"s":4.23},{"t":2015.47,"o":3.27,"s":3.13},{"t":2015.48,"o":3.73,"s":4.07},{"t":2015.49,"o":3.07,"s":2.13},
{"t":2015.50,"o":3.47,"s":3.97},{"t":2015.51,"o":3.03,"s":3.03},{"t":2015.52,"o":3.37,"s":4.17},{"t":2015.53,"o":2.87,"s":2.43},{"t":2015.54,"o":3.23,"s":4.07},{"t":2015.55,"o":2.77,"s":2.37},{"t":2015.56,"o":3.13,"s":3.77},{"t":2015.57,"o":2.57,"s":1.63},{"t":2015.58,"o":2.93,"s":3.07},{"t":2015.59,"o":2.37,"s":3.47},
{"t":2015.60,"o":2.73,"s":2.13},{"t":2015.61,"o":2.17,"s":2.63},{"t":2015.62,"o":2.53,"s":2.37},{"t":2015.63,"o":1.97,"s":3.47},{"t":2015.64,"o":2.27,"s":1.53},{"t":2015.65,"o":1.77,"s":2.33},{"t":2015.66,"o":2.03,"s":1.97},{"t":2015.67,"o":1.57,"s":2.53},{"t":2015.68,"o":1.77,"s":0.63},{"t":2015.69,"o":1.43,"s":1.73},
{"t":2015.70,"o":1.55,"s":0.3},{"t":2015.71,"o":1.17,"s":2.13},{"t":2015.72,"o":1.33,"s":0.22},{"t":2015.73,"o":0.95,"s":1.6},{"t":2015.74,"o":1.1,"s":0.3},{"t":2015.75,"o":0.75,"s":0.8},{"t":2015.76,"o":0.9,"s":0.15},{"t":2015.77,"o":0.55,"s":0.5},{"t":2015.78,"o":0.7,"s":0.08},{"t":2015.79,"o":0.4,"s":0.32},
{"t":2015.80,"o":0.55,"s":0.0},{"t":2015.81,"o":0.3,"s":0.2},{"t":2015.82,"o":0.45,"s":-0.06},{"t":2015.83,"o":0.2,"s":0.1},{"t":2015.84,"o":0.8,"s":0.4},{"t":2015.85,"o":0.15,"s":0.02},{"t":2015.86,"o":0.3,"s":0.25},{"t":2015.87,"o":0.6,"s":-0.05},{"t":2015.88,"o":0.1,"s":0.15},{"t":2015.89,"o":0.25,"s":0.0},
{"t":2015.90,"o":0.4,"s":0.3},{"t":2015.91,"o":0.08,"s":-0.1},{"t":2015.92,"o":0.2,"s":0.12},{"t":2015.93,"o":0.35,"s":0.35},{"t":2015.94,"o":0.05,"s":0.0},{"t":2015.95,"o":0.18,"s":0.2},{"t":2015.96,"o":0.28,"s":-0.08},{"t":2015.97,"o":0.1,"s":1.1},{"t":2015.98,"o":0.15,"s":0.05},{"t":2015.99,"o":0.05,"s":0.0}
]},
"hconcat": [
{
"width": 622, "height": 317,
"data": {"name": "ts"},
"title": {"text": "(a)", "anchor": "start", "frame": "group", "orient": "top", "offset": -46, "dx": 7, "fontSize": 30, "fontWeight": "normal", "font": "Liberation Sans", "color": "black"},
"encoding": {
"x": {"field": "t", "type": "quantitative", "scale": {"domain": [2007, 2016], "nice": false, "zero": false},
"axis": {"title": null,
"values": [2007,2007.083,2007.167,2007.25,2007.333,2007.417,2007.5,2007.583,2007.667,2007.75,2007.833,2007.917,2008,2008.083,2008.167,2008.25,2008.333,2008.417,2008.5,2008.583,2008.667,2008.75,2008.833,2008.917,2009,2009.083,2009.167,2009.25,2009.333,2009.417,2009.5,2009.583,2009.667,2009.75,2009.833,2009.917,2010,2010.083,2010.167,2010.25,2010.333,2010.417,2010.5,2010.583,2010.667,2010.75,2010.833,2010.917,2011,2011.083,2011.167,2011.25,2011.333,2011.417,2011.5,2011.583,2011.667,2011.75,2011.833,2011.917,2012,2012.083,2012.167,2012.25,2012.333,2012.417,2012.5,2012.583,2012.667,2012.75,2012.833,2012.917,2013,2013.083,2013.167,2013.25,2013.333,2013.417,2013.5,2013.583,2013.667,2013.75,2013.833,2013.917,2014,2014.083,2014.167,2014.25,2014.333,2014.417,2014.5,2014.583,2014.667,2014.75,2014.833,2014.917,2015,2015.083,2015.167,2015.25,2015.333,2015.417,2015.5,2015.583,2015.667,2015.75,2015.833,2015.917,2016],
"labelExpr": "datum.value % 1 == 0.5 ? (floor(datum.value) == 2009 ? '2008' : '' + floor(datum.value)) : ''",
"labelFontSize": 25, "labelPadding": 16, "labelOverlap": false, "labelFlush": false, "labelBound": false,
"tickSize": {"condition": {"test": "datum.value % 1 == 0", "value": 8}, "value": 5},
"grid": true, "gridColor": "black", "gridDash": [4, 3], "gridWidth": 1,
"gridOpacity": {"condition": {"test": "datum.value % 1 == 0 && datum.value > 2007 && datum.value < 2016", "value": 1}, "value": 0}}}
},
"layer": [
{"mark": {"type": "line", "color": "black", "strokeWidth": 1.6, "clip": true},
"encoding": {
"y": {"field": "s", "type": "quantitative", "scale": {"domain": [0, 6.24], "nice": false, "zero": false},
"axis": {"title": "Vapor flux (mm d⁻¹)", "values": [0,0.5,1,1.5,2,2.5,3,3.5,4,4.5,5,5.5,6],
"labelExpr": "datum.value % 1 == 0 ? format(datum.value, 'd') : ''",
"tickSize": {"condition": {"test": "datum.value % 1 == 0", "value": 7}, "value": 5},
"labelPadding": 14, "labelFontSize": 24, "titleFontSize": 24, "titlePadding": 16, "labelOverlap": false, "labelFlush": false, "labelBound": false, "grid": false}},
"color": {"datum": "Sim.", "type": "nominal", "scale": {"domain": ["Obs.", "Sim."], "range": ["#0000ff", "black"]},
"legend": {"title": null, "orient": "top-right", "offset": 2, "padding": 8, "fillColor": "white", "labelFontSize": 23, "labelFont": "Liberation Sans", "labelColor": "black", "labelOffset": 6, "rowPadding": 5, "symbolStrokeWidth": 1.3, "symbolOpacity": 1}}
}},
{"mark": {"type": "point", "filled": true, "opacity": 1, "clip": true},
"encoding": {
"y": {"field": "o", "type": "quantitative", "axis": {"title": "Vapor flux (mm d⁻¹)"}},
"color": {"datum": "Obs.", "type": "nominal", "legend": {"title": null, "orient": "top-right", "offset": 2, "padding": 8, "fillColor": "white", "labelFontSize": 23, "labelFont": "Liberation Sans", "labelColor": "black", "labelOffset": 6, "rowPadding": 5, "symbolStrokeWidth": 1.3, "symbolOpacity": 1}},
"shape": {"datum": "Obs.", "type": "nominal", "scale": {"domain": ["Obs.", "Sim."], "range": ["circle", "stroke"]}, "legend": {"title": null, "orient": "top-right", "offset": 2, "padding": 8, "fillColor": "white", "labelFontSize": 23, "labelFont": "Liberation Sans", "labelColor": "black", "labelOffset": 6, "rowPadding": 5, "symbolStrokeWidth": 1.3, "symbolOpacity": 1}},
"size": {"datum": "Obs.", "type": "nominal", "scale": {"type": "point", "padding": 0, "domain": ["Obs.", "Sim."], "range": [18, 484]}, "legend": {"title": null, "orient": "top-right", "offset": 2, "padding": 8, "fillColor": "white", "labelFontSize": 23, "labelFont": "Liberation Sans", "labelColor": "black", "labelOffset": 6, "rowPadding": 5, "symbolStrokeWidth": 1.3, "symbolOpacity": 1}}
}}
]
},
{
"width": 313, "height": 313,
"title": {"text": "(b)", "anchor": "start", "frame": "group", "orient": "top", "offset": -40, "dx": 13, "fontSize": 30, "fontWeight": "normal", "font": "Liberation Sans", "color": "black"},
"layer": [
{"data": {"name": "ts"},
"mark": {"type": "circle", "color": "black", "size": 10, "opacity": 1},
"encoding": {
"x": {"field": "o", "type": "quantitative", "scale": {"domain": [-1, 6], "nice": false, "zero": false},
"axis": {"title": "Obs. vapor flux (mm d⁻¹)", "values": [-1,0,1,2,3,4,5,6], "tickSize": 7, "labelPadding": 7, "labelFontSize": 22, "titleFontSize": 24, "titlePadding": 7, "labelFlush": false, "labelOverlap": false, "labelBound": false, "grid": false}},
"y": {"field": "s", "type": "quantitative", "scale": {"domain": [-1, 6], "nice": false, "zero": false},
"axis": {"title": "Sim. vapor flux (mm d⁻¹)", "values": [-1,0,1,2,3,4,5,6], "tickSize": 7, "labelPadding": 15, "labelFontSize": 22, "titleFontSize": 24, "titlePadding": 9, "labelFlush": false, "labelOverlap": false, "labelBound": false, "grid": false}}
}},
{"data": {"values": [{}]},
"mark": {"type": "rule", "color": "black", "strokeWidth": 1},
"encoding": {"x": {"datum": -1}, "y": {"datum": -1}, "x2": {"datum": 6}, "y2": {"datum": 6}}},
{"data": {"values": [{}]},
"mark": {"type": "rule", "color": "black", "strokeWidth": 1, "strokeDash": [4, 3]},
"encoding": {"x": {"datum": -0.96}, "y": {"datum": -1}, "x2": {"datum": 5.77}, "y2": {"datum": 6}}}
]
}
]
}
